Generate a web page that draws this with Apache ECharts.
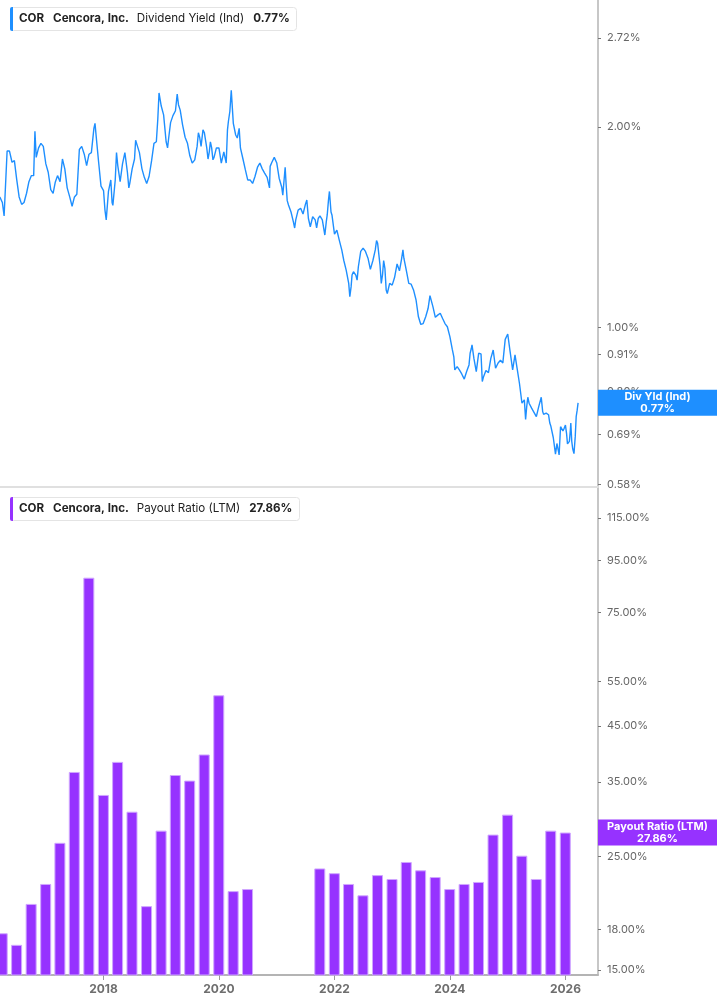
<!DOCTYPE html>
<html>
<head>
<meta charset="utf-8">
<script src="https://cdn.jsdelivr.net/npm/echarts@6/dist/echarts.min.js"></script>
<style>
html,body{margin:0;padding:0;background:#fff;}
#chart{width:717px;height:1005px;}
</style>
</head>
<body>
<div id="chart"></div>
<script>
// ---- Dividend yield (Ind), % ----
const yieldDates = [
'2016-03-16','2016-04-01','2016-04-12','2016-05-01','2016-05-16','2016-06-01','2016-06-16','2016-07-01','2016-07-16','2016-08-01','2016-08-16','2016-09-01','2016-09-16','2016-10-01','2016-10-16','2016-10-24','2016-11-01','2016-11-16','2016-12-01','2016-12-16',
'2017-01-01','2017-01-16','2017-02-01','2017-02-16','2017-03-01','2017-03-16','2017-04-01','2017-04-16','2017-05-01','2017-05-16','2017-06-01','2017-06-16','2017-07-01','2017-07-16','2017-08-01','2017-08-16','2017-09-01','2017-09-16','2017-10-01','2017-10-16','2017-11-01','2017-11-08','2017-11-16','2017-12-01','2017-12-16',
'2018-01-01','2018-01-10','2018-01-18','2018-02-01','2018-02-16','2018-02-24','2018-03-01','2018-03-16','2018-03-24','2018-04-01','2018-04-16','2018-05-01','2018-05-16','2018-06-01','2018-06-10','2018-06-16','2018-07-01','2018-07-16','2018-07-23','2018-08-01','2018-08-16','2018-09-01','2018-09-16','2018-10-01','2018-10-16','2018-11-01','2018-11-16','2018-12-01','2018-12-10','2018-12-18',
'2019-01-01','2019-01-16','2019-02-01','2019-02-10','2019-02-16','2019-03-01','2019-03-16','2019-04-01','2019-04-12','2019-04-20','2019-05-01','2019-05-16','2019-06-01','2019-06-16','2019-07-01','2019-07-16','2019-08-01','2019-08-16','2019-08-24','2019-09-01','2019-09-10','2019-09-22','2019-10-01','2019-10-16','2019-10-24','2019-11-01','2019-11-08','2019-11-16','2019-11-24','2019-12-01','2019-12-16',
'2020-01-01','2020-01-16','2020-02-01','2020-02-16','2020-02-24','2020-03-01','2020-03-10','2020-03-19','2020-04-01','2020-04-16','2020-04-26','2020-05-08','2020-05-16','2020-06-01','2020-06-16','2020-07-01','2020-07-16','2020-08-01','2020-08-16','2020-09-01','2020-09-16','2020-10-01','2020-10-16','2020-11-01','2020-11-16','2020-11-20','2020-12-01','2020-12-16',
'2021-01-01','2021-01-16','2021-02-01','2021-02-08','2021-02-23','2021-03-01','2021-03-08','2021-03-16','2021-04-01','2021-04-16','2021-04-24','2021-05-01','2021-05-16','2021-06-01','2021-06-16','2021-07-01','2021-07-10','2021-07-20','2021-08-01','2021-08-16','2021-09-01','2021-09-10','2021-09-20','2021-10-01','2021-10-16','2021-11-01','2021-11-10','2021-11-16','2021-11-24','2021-11-30','2021-12-10','2021-12-16',
'2022-01-01','2022-01-16','2022-02-01','2022-02-16','2022-03-01','2022-03-16','2022-04-01','2022-04-08','2022-04-16','2022-04-22','2022-05-01','2022-05-16','2022-05-24','2022-06-01','2022-06-16','2022-07-01','2022-07-16','2022-08-01','2022-08-16','2022-09-01','2022-09-16','2022-09-24','2022-10-01','2022-10-16','2022-10-24','2022-11-01','2022-11-08','2022-11-16','2022-11-24','2022-12-01','2022-12-16',
'2023-01-01','2023-01-16','2023-02-01','2023-02-16','2023-03-01','2023-03-10','2023-03-16','2023-04-01','2023-04-16','2023-05-01','2023-05-16','2023-06-01','2023-06-16','2023-07-01','2023-07-16','2023-08-01','2023-08-16','2023-08-28','2023-09-16','2023-10-01','2023-10-16','2023-11-01','2023-11-16','2023-12-01','2023-12-16',
'2024-01-01','2024-01-16','2024-01-26','2024-02-01','2024-02-16','2024-03-01','2024-03-16','2024-04-01','2024-04-16','2024-05-01','2024-05-08','2024-05-16','2024-05-20','2024-06-01','2024-06-16','2024-07-01','2024-07-16','2024-07-24','2024-08-01','2024-08-16','2024-09-01','2024-09-16','2024-10-01','2024-10-16','2024-11-01','2024-11-16','2024-12-01','2024-12-16',
'2025-01-01','2025-01-16','2025-02-01','2025-02-16','2025-03-01','2025-03-16','2025-04-01','2025-04-16','2025-04-24','2025-05-01','2025-05-08','2025-05-16','2025-06-01','2025-06-16','2025-07-01','2025-07-16','2025-08-01','2025-08-10','2025-08-16','2025-09-01','2025-09-16','2025-09-24','2025-10-01','2025-10-16','2025-10-24','2025-10-30','2025-11-04','2025-11-08','2025-11-18','2025-11-22','2025-12-01','2025-12-10','2025-12-16','2025-12-24',
'2026-01-01','2026-01-08','2026-01-14','2026-01-20','2026-01-26','2026-02-01','2026-02-04','2026-02-10','2026-02-16','2026-02-24','2026-03-04','2026-03-10','2026-03-16','2026-03-22'
];
const yieldValues = [
1.57,1.54,1.47,1.84,1.84,1.77,1.78,1.665,1.57,1.53,1.54,1.59,1.655,1.69,1.69,1.97,1.80,1.86,1.89,1.87,
1.76,1.71,1.61,1.59,1.65,1.69,1.655,1.79,1.73,1.62,1.57,1.52,1.57,1.585,1.85,1.87,1.82,1.75,1.82,1.83,1.99,2.025,1.93,1.77,1.63,
1.605,1.50,1.45,1.60,1.665,1.54,1.525,1.665,1.83,1.75,1.655,1.76,1.83,1.71,1.62,1.645,1.73,1.79,1.91,1.88,1.83,1.73,1.68,1.645,1.685,1.78,1.89,1.90,2.05,2.25,
2.15,2.085,1.90,1.86,1.915,2.03,2.08,2.115,2.24,2.16,2.12,2.015,1.93,1.89,1.81,1.765,1.785,1.87,1.96,1.93,1.87,1.98,1.96,1.86,1.79,1.835,1.90,1.86,1.785,1.80,1.86,
1.86,1.765,1.835,1.765,1.98,2.04,2.11,2.27,2.025,1.945,1.925,1.99,1.86,1.79,1.725,1.665,1.665,1.645,1.685,1.74,1.765,1.73,1.705,1.68,1.62,1.745,1.77,1.80,
1.765,1.675,1.625,1.58,1.74,1.64,1.55,1.527,1.49,1.44,1.41,1.45,1.50,1.51,1.48,1.53,1.553,1.457,1.416,1.466,1.45,1.41,1.457,1.47,1.45,1.376,1.44,1.475,1.553,1.60,1.49,1.475,
1.38,1.40,1.35,1.307,1.26,1.219,1.164,1.112,1.15,1.198,1.212,1.198,1.177,1.233,1.30,1.315,1.30,1.27,1.222,1.26,1.307,1.35,1.337,1.24,1.164,1.20,1.26,1.226,1.138,1.124,1.164,
1.157,1.188,1.245,1.216,1.265,1.307,1.27,1.216,1.164,1.161,1.138,1.099,1.037,1.01,1.013,1.037,1.067,1.116,1.073,1.035,1.043,1.05,1.031,1.013,1.002,
0.968,0.927,0.903,0.863,0.873,0.863,0.851,0.836,0.858,0.878,0.914,0.93,0.941,0.898,0.858,0.914,0.912,0.829,0.843,0.861,0.855,0.898,0.9245,0.868,0.884,0.892,0.884,0.959,
0.977,0.919,0.863,0.909,0.868,0.824,0.769,0.778,0.727,0.76,0.785,0.769,0.756,0.745,0.734,0.76,0.785,0.747,0.74,0.743,0.739,0.718,0.71,0.683,0.661,0.645,0.657,0.669,0.651,0.643,0.709,0.705,0.699,0.705,
0.713,0.693,0.668,0.67,0.674,0.70,0.718,0.674,0.657,0.646,0.685,0.734,0.75,0.77
];

// ---- Payout ratio (LTM), %, quarterly ----
const payoutDates = [
'2016-03-31','2016-06-30','2016-09-30','2016-12-31','2017-03-31','2017-06-30','2017-09-30','2017-12-31',
'2018-03-31','2018-06-30','2018-09-30','2018-12-31','2019-03-31','2019-06-30','2019-09-30','2019-12-31',
'2020-03-31','2020-06-30','2020-09-30','2020-12-31','2021-03-31','2021-06-30','2021-09-30','2021-12-31',
'2022-03-31','2022-06-30','2022-09-30','2022-12-31','2023-03-31','2023-06-30','2023-09-30','2023-12-31',
'2024-03-31','2024-06-30','2024-09-30','2024-12-31','2025-03-31','2025-06-30','2025-09-30','2025-12-31'
];
const payoutValues = [
17.7,16.8,20.2,22.1,26.6,36.6,87.8,33.0,
38.3,30.6,20.0,28.1,36.1,35.2,39.6,51.7,
21.4,21.6,null,null,null,null,23.7,23.2,
22.1,21.0,23.0,22.6,24.4,23.5,22.8,21.6,
22.1,22.3,27.6,30.2,25.1,22.6,28.1,27.86
];

// ---- Axis ticks ----
const yieldTicks = [2.72, 2.00, 1.00, 0.91, 0.80, 0.69, 0.58];
const payoutTicks = [115, 95, 75, 55, 45, 35, 25, 18, 15];
const yearTicks = ['2018-01-01','2020-01-01','2022-01-01','2024-01-01','2026-01-01'];

const ticker = 'COR';
const company = 'Cencora, Inc.';
const yieldName = 'Dividend Yield (Ind)';
const yieldShort = 'Div Yld (Ind)';
const payoutName = 'Payout Ratio (LTM)';

const BLUE = '#1e8fff';
const PURPLE = '#9632ff';
const FONT = 'Inter, "Noto Sans", sans-serif';

const ts = d => new Date(d).getTime();
const lastYield = yieldValues[yieldValues.length - 1];
const lastPayout = payoutValues[payoutValues.length - 1];

const yieldData = yieldDates.map((d, i) => [ts(d), yieldValues[i]]);
const payoutData = payoutDates.map((d, i) => [ts(d), payoutValues[i]]);
const yearTickTs = yearTicks.map(ts);

function header(top, color, name, val) {
  const fs = 11.6;
  return {
    left: 10, top: top,
    padding: [0, 7, 0, 0],
    backgroundColor: '#fff',
    borderColor: '#e4e4e4', borderWidth: 1, borderRadius: 3,
    text: '{bar| }{t|' + ticker + '}{c|' + company + '}{n|' + name + '}{c|' + val + '}',
    textStyle: {
      fontFamily: FONT,
      rich: {
        bar: { width: 3, height: 24, lineHeight: 24, backgroundColor: color, borderRadius: [2, 0, 0, 2] },
        t: { fontFamily: FONT, fontSize: fs, fontWeight: 'bold', color: '#222', lineHeight: 24, padding: [0, 0, 0, 6] },
        c: { fontFamily: FONT, fontSize: fs, fontWeight: 'bold', color: '#222', lineHeight: 24, padding: [0, 0, 0, 9] },
        n: { fontFamily: FONT, fontSize: fs, fontWeight: 'normal', color: '#222', lineHeight: 24, padding: [0, 0, 0, 8] }
      }
    }
  };
}

function tagLabel(color, l1, l2) {
  return {
    show: true,
    position: 'end',
    distance: 0,
    formatter: '{a|' + l1 + '}\n{a|' + l2 + '}',
    backgroundColor: color,
    padding: [1, 4, 1, 4],
    width: 111,
    rich: {
      a: { fontFamily: FONT, fontSize: 11, fontWeight: 'bold', color: '#fff', lineHeight: 12, align: 'center', width: 111 }
    }
  };
}

const xMin = ts('2016-03-17');
const xMax = ts('2026-07-26');

const chart = echarts.init(document.getElementById('chart'), null, { renderer: 'canvas' });
chart.setOption({
  animation: false,
  backgroundColor: '#fff',
  title: [
    header(7, BLUE, yieldName, lastYield.toFixed(2) + '%'),
    header(497, PURPLE, payoutName, lastPayout.toFixed(2) + '%')
  ],
  grid: [
    { left: 0, top: 0, width: 598, height: 487 },
    { left: 0, top: 487, width: 598, height: 488 }
  ],
  xAxis: [
    {
      type: 'value', gridIndex: 0, min: xMin, max: xMax, scale: true,
      axisLine: { show: true, lineStyle: { color: '#e0e0e0', width: 2 } },
      axisTick: { show: false }, axisLabel: { show: false }, splitLine: { show: false }
    },
    {
      type: 'value', gridIndex: 1, min: xMin, max: xMax, scale: true,
      axisLine: { show: true, lineStyle: { color: '#b4b4b4', width: 2 } },
      axisTick: { show: true, length: 5, lineStyle: { color: '#999' }, customValues: yearTickTs },
      axisLabel: {
        show: true, customValues: yearTickTs, margin: 8,
        fontFamily: FONT, fontSize: 12, fontWeight: 'bold', color: '#6e6e6e',
        formatter: v => String(new Date(v).getUTCFullYear())
      },
      splitLine: { show: false }
    }
  ],
  yAxis: [
    {
      type: 'log', gridIndex: 0, position: 'right', min: 0.5755, max: 3.103,
      axisLine: { show: true, lineStyle: { color: '#b4b4b4', width: 1.5 } },
      axisTick: { show: true, length: 3, lineStyle: { color: '#777' }, customValues: yieldTicks },
      axisLabel: {
        show: true, customValues: yieldTicks, margin: 9,
        fontFamily: FONT, fontSize: 11, color: '#666',
        formatter: v => Number(v).toFixed(2) + '%'
      },
      splitLine: { show: false }
    },
    {
      type: 'log', gridIndex: 1, position: 'right', min: 14.666, max: 132.1,
      axisLine: { show: true, lineStyle: { color: '#b4b4b4', width: 1.5 } },
      axisTick: { show: true, length: 3, lineStyle: { color: '#777' }, customValues: payoutTicks },
      axisLabel: {
        show: true, customValues: payoutTicks, margin: 9,
        fontFamily: FONT, fontSize: 11, color: '#666',
        formatter: v => Number(v).toFixed(2) + '%'
      },
      splitLine: { show: false }
    }
  ],
  series: [
    {
      type: 'line', name: yieldName, xAxisIndex: 0, yAxisIndex: 0,
      data: yieldData, showSymbol: false, symbol: 'none', clip: true,
      lineStyle: { color: BLUE, width: 1.4 },
      markLine: {
        silent: true, symbol: ['none', 'none'], z: 10,
        lineStyle: { color: 'rgba(0,0,0,0)', width: 1, type: 'solid' },
        label: tagLabel(BLUE, yieldShort, lastYield.toFixed(2) + '%'),
        emphasis: { disabled: true },
        data: [{ yAxis: lastYield }]
      }
    },
    {
      type: 'bar', name: payoutName, xAxisIndex: 1, yAxisIndex: 1,
      data: payoutData, barWidth: 11, clip: true,
      itemStyle: { color: PURPLE, borderColor: '#cfa6ff', borderWidth: 1 },
      markLine: {
        silent: true, symbol: ['none', 'none'], z: 10,
        lineStyle: { color: 'rgba(0,0,0,0)', width: 1, type: 'solid' },
        label: tagLabel(PURPLE, payoutName, lastPayout.toFixed(2) + '%'),
        emphasis: { disabled: true },
        data: [{ yAxis: lastPayout }]
      }
    }
  ]
});
</script>
</body>
</html>
